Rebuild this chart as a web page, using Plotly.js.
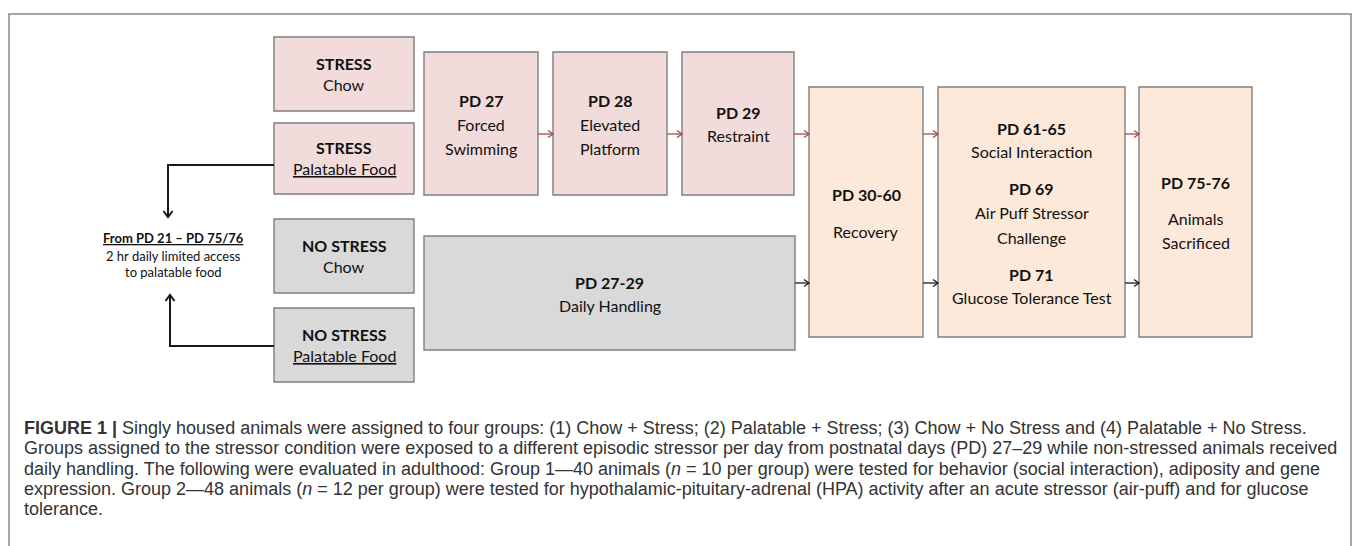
<!DOCTYPE html>
<html>
<head>
<meta charset="utf-8">
<script src="https://cdn.plot.ly/plotly-3.0.1.min.js"></script>
<style>
html,body{margin:0;padding:0;background:#fff;}
#chart{width:1355px;height:546px;}
</style>
</head>
<body>
<div id="chart"></div>
<script>
// ---- content ----
const stressGroups = ['STRESS', 'STRESS', 'NO STRESS', 'NO STRESS'];
const dietGroups = ['Chow', 'Palatable Food', 'Chow', 'Palatable Food'];
const dietUnderlined = [false, true, false, true];
const stressorDays = ['PD 27', 'PD 28', 'PD 29'];
const stressorTests = [['Forced', 'Swimming'], ['Elevated', 'Platform'], ['Restraint']];
const handlingDays = 'PD 27-29';
const handlingLabel = 'Daily Handling';
const recoveryDays = 'PD 30-60';
const recoveryLabel = 'Recovery';
const testDays = ['PD 61-65', 'PD 69', 'PD 71'];
const testLabels = [['Social Interaction'], ['Air Puff Stressor', 'Challenge'], ['Glucose Tolerance Test']];
const endDays = 'PD 75-76';
const endLabels = ['Animals', 'Sacrificed'];
const accessNote = ['From PD 21 \u2013 PD 75/76', '2 hr daily limited access', 'to palatable food'];
const captionLines = [
  '<b>FIGURE 1 |</b> Singly housed animals were assigned to four groups: (1) Chow + Stress; (2) Palatable + Stress; (3) Chow + No Stress and (4) Palatable + No Stress.',
  'Groups assigned to the stressor condition were exposed to a different episodic stressor per day from postnatal days (PD) 27\u201329 while non-stressed animals received',
  'daily handling. The following were evaluated in adulthood: Group 1\u201440 animals (<i>n</i> = 10 per group) were tested for behavior (social interaction), adiposity and gene',
  'expression. Group 2\u201448 animals (<i>n</i> = 12 per group) were tested for hypothalamic-pituitary-adrenal (HPA) activity after an acute stressor (air-puff) and for glucose',
  'tolerance.'
];

// ---- styles ----
const PINK = '#f2dcdb', GRAY = '#d9d9d9', PEACH = '#fde9d9';
const EDGE = '#7f7f7f', RED = '#a9474a', BLACK = '#1a1a1a';
const BOXFONT = 'Lato, "Open Sans", sans-serif';
const CAPFONT = '"Liberation Sans", Arial, sans-serif';
const FS = 16;

const shapes = [];
const annotations = [];

function box(x0, y0, x1, y1, fill) {
  shapes.push({type: 'rect', xref: 'x', yref: 'y', x0, y0, x1, y1,
    fillcolor: fill, line: {color: EDGE, width: 1.4}, layer: 'below'});
}
function txt(x, y, text, size, opts) {
  opts = opts || {};
  annotations.push({x, y, xref: 'x', yref: 'y', text, showarrow: false,
    xanchor: opts.xanchor || 'center', yanchor: 'middle', align: opts.xanchor === 'left' ? 'left' : 'center',
    font: {family: opts.family || BOXFONT, size, color: opts.color || '#111'}});
}
function line(pts, color, width) {
  let d = 'M ' + pts.map(p => p[0] + ',' + p[1]).join(' L ');
  shapes.push({type: 'path', xref: 'x', yref: 'y', path: d, line: {color, width}});
}
function head(x, y, dir, len, half, color, width) {
  let p;
  if (dir === 'r') p = [[x - len, y - half], [x, y], [x - len, y + half]];
  else if (dir === 'd') p = [[x - half, y - len], [x, y], [x + half, y - len]];
  else p = [[x - half, y + len], [x, y], [x + half, y + len]];
  line(p, color, width);
}
function hArrow(x0, x1, y, color) {
  line([[x0, y], [x1, y]], color, 1.3);
  head(x1, y, 'r', 5, 3.5, color, 1.3);
}

// frame
shapes.push({type: 'rect', xref: 'x', yref: 'y', x0: 9, y0: 14, x1: 1351, y1: 600,
  fillcolor: 'rgba(0,0,0,0)', line: {color: '#8a8a8a', width: 1.5}, layer: 'below'});

// group boxes
const gY = [[37, 111], [123, 194], [219, 293], [308, 382]];
stressGroups.forEach((s, i) => {
  const [y0, y1] = gY[i];
  box(274, y0, 414, y1, i < 2 ? PINK : GRAY);
  const c = (y0 + y1) / 2;
  txt(344, c - 11, '<b>' + s + '</b>', FS);
  txt(344, c + 10, dietUnderlined[i] ? '<u>' + dietGroups[i] + '</u>' : dietGroups[i], FS);
});

// stressor boxes
const sX = [[424, 538], [553, 667], [682, 794]];
stressorDays.forEach((d, i) => {
  const [x0, x1] = sX[i];
  box(x0, 52, x1, 195, PINK);
  const cx = (x0 + x1) / 2;
  const lines = stressorTests[i];
  if (lines.length === 2) {
    txt(cx, 100, '<b>' + d + '</b>', FS);
    txt(cx, 124, lines[0], FS);
    txt(cx, 148, lines[1], FS);
  } else {
    txt(cx, 112, '<b>' + d + '</b>', FS);
    txt(cx, 135, lines[0], FS);
  }
});

// handling box
box(424, 236, 795, 350, GRAY);
txt(609.5, 282, '<b>' + handlingDays + '</b>', FS);
txt(609.5, 305, handlingLabel, FS);

// adult boxes
box(809, 87, 923, 337, PEACH);
txt(866, 194, '<b>' + recoveryDays + '</b>', FS);
txt(866, 231, recoveryLabel, FS);

box(938, 87, 1125, 337, PEACH);
const tc = 1031.5;
txt(tc, 128, '<b>' + testDays[0] + '</b>', FS);
txt(tc, 151, testLabels[0][0], FS);
txt(tc, 188, '<b>' + testDays[1] + '</b>', FS);
txt(tc, 212, testLabels[1][0], FS);
txt(tc, 237, testLabels[1][1], FS);
txt(tc, 274, '<b>' + testDays[2] + '</b>', FS);
txt(tc, 297, testLabels[2][0], FS);

box(1139, 87, 1252, 337, PEACH);
txt(1195.5, 182, '<b>' + endDays + '</b>', FS);
txt(1195.5, 218, endLabels[0], FS);
txt(1195.5, 242, endLabels[1], FS);

// red arrows (stress path)
hArrow(538, 553, 134, RED);
hArrow(667, 682, 134, RED);
hArrow(794, 809, 134, RED);
hArrow(923, 938, 134, RED);
hArrow(1125, 1139, 134, RED);
// black arrows (no-stress path)
hArrow(795, 809, 283, BLACK);
hArrow(923, 938, 283, BLACK);
hArrow(1125, 1139, 283, BLACK);

// elbow arrows to access note
line([[274, 165], [168, 165], [168, 216]], BLACK, 2);
head(168, 217, 'd', 6, 4.5, BLACK, 2);
line([[274, 346], [170, 346], [170, 296]], BLACK, 2);
head(170, 295, 'u', 6, 4.5, BLACK, 2);

// access note
txt(173, 238, '<b><u>' + accessNote[0] + '</u></b>', 13);
txt(173, 256, accessNote[1], 13);
txt(173, 272, accessNote[2], 13);

// caption
const capY = [428, 448, 469, 489, 509];
captionLines.forEach((t, i) => {
  txt(22, capY[i], t, 18, {xanchor: 'left', family: CAPFONT, color: '#333'});
});

const layout = {
  width: 1355, height: 546, autosize: false,
  margin: {l: 0, r: 0, t: 0, b: 0, pad: 0},
  paper_bgcolor: '#ffffff', plot_bgcolor: '#ffffff',
  xaxis: {range: [0, 1355], visible: false, fixedrange: true},
  yaxis: {range: [546, 0], visible: false, fixedrange: true},
  showlegend: false,
  shapes, annotations
};
Plotly.newPlot('chart', [], layout, {staticPlot: true, displayModeBar: false});
</script>
</body>
</html>
